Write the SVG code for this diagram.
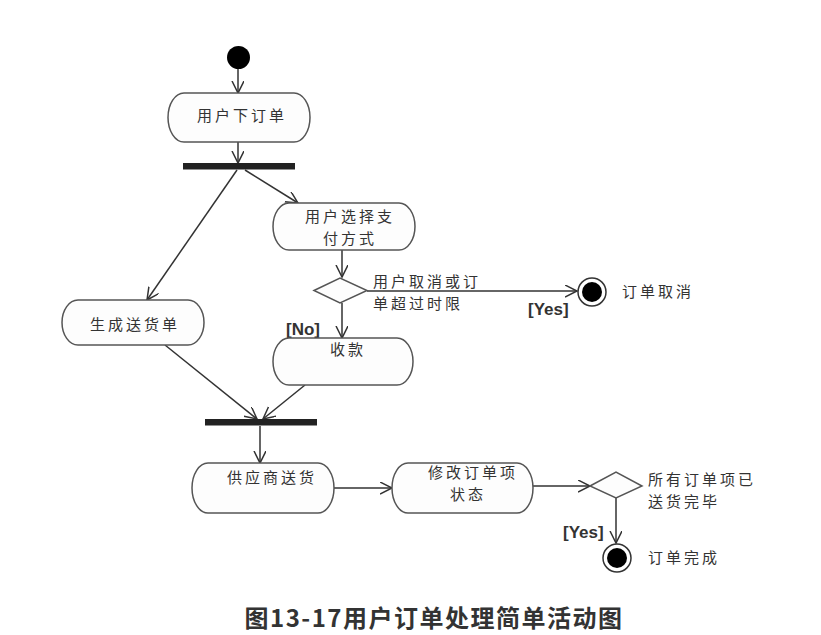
<svg xmlns="http://www.w3.org/2000/svg" width="821" height="635" viewBox="0 0 821 635">
<defs>
<marker id="arr" markerUnits="userSpaceOnUse" markerWidth="14" markerHeight="14" refX="12" refY="6" orient="auto">
<path d="M0,0 L12,6 L0,12" fill="none" stroke="#333" stroke-width="1.5"/>
</marker>
</defs>
<style>
.box{fill:#fdfdfd;stroke:#555;stroke-width:1.5}
.bar{fill:#222}
.ln{fill:none;stroke:#333;stroke-width:1.5}
.t{font-family:"Noto Sans CJK SC","Noto Sans",sans-serif;font-size:15px;fill:#333;letter-spacing:3px}
.g{font-family:"Liberation Sans",Arial,sans-serif;font-size:17px;font-weight:bold;fill:#333}
.title{font-family:"Noto Sans CJK SC","Noto Sans",sans-serif;font-size:24px;font-weight:bold;fill:#333;letter-spacing:1.5px}
</style>
<rect width="821" height="635" fill="#fff"/>
<g id="connectors">
<line class="ln" x1="238" y1="69" x2="238" y2="93" marker-end="url(#arr)"/>
<line class="ln" x1="238" y1="142" x2="238" y2="163" marker-end="url(#arr)"/>
<line class="ln" x1="237" y1="170" x2="147" y2="300" marker-end="url(#arr)"/>
<line class="ln" x1="245" y1="170" x2="298" y2="203" marker-end="url(#arr)"/>
<line class="ln" x1="342" y1="250" x2="342" y2="277" marker-end="url(#arr)"/>
<line class="ln" x1="367" y1="291" x2="577" y2="291" marker-end="url(#arr)"/>
<line class="ln" x1="342" y1="303" x2="342" y2="338" marker-end="url(#arr)"/>
<line class="ln" x1="165" y1="345" x2="257" y2="419" marker-end="url(#arr)"/>
<line class="ln" x1="305" y1="385" x2="263" y2="419" marker-end="url(#arr)"/>
<line class="ln" x1="260" y1="426" x2="260" y2="463" marker-end="url(#arr)"/>
<line class="ln" x1="334" y1="488" x2="392" y2="488" marker-end="url(#arr)"/>
<line class="ln" x1="533" y1="486" x2="590" y2="486" marker-end="url(#arr)"/>
<line class="ln" x1="616" y1="498" x2="616" y2="543" marker-end="url(#arr)"/>
</g>
<g id="start"><circle cx="238.5" cy="57.5" r="11.5" fill="#000"/></g>
<g id="n1">
<path class="box" d="M184,93 H294 A16,24.5 0 0 1 294,142 H184 A16,24.5 0 0 1 184,93 Z"/>
<text class="t" x="197" y="121">用户下订单</text>
</g>
<g id="fork"><rect class="bar" x="183" y="163" width="112" height="6.5"/></g>
<g id="n2">
<path class="box" d="M289,203 H399 A16,23.5 0 0 1 399,250 H289 A16,23.5 0 0 1 289,203 Z"/>
<text class="t"><tspan x="305" y="222">用户选择支</tspan><tspan x="323" y="244">付方式</tspan></text>
</g>
<g id="d1">
<polygon class="box" points="314,290.5 340,278 367,290.5 340,303"/>
<text class="t"><tspan x="373" y="287">用户取消或订</tspan><tspan x="373" y="309">单超过时限</tspan></text>
<text class="g" x="528" y="315">[Yes]</text>
<text class="g" x="286" y="335">[No]</text>
</g>
<g id="end1">
<circle cx="592" cy="292" r="14" fill="#fff" stroke="#333" stroke-width="1.5"/>
<circle cx="592" cy="292" r="10" fill="#000"/>
<text class="t" x="622" y="297">订单取消</text>
</g>
<g id="n3">
<path class="box" d="M78,300 H188 A16,22.5 0 0 1 188,345 H78 A16,22.5 0 0 1 78,300 Z"/>
<text class="t" x="90" y="330">生成送货单</text>
</g>
<g id="n4">
<path class="box" d="M289,338 H397 A16,23.5 0 0 1 397,385 H289 A16,23.5 0 0 1 289,338 Z"/>
<text class="t" x="330" y="355">收款</text>
</g>
<g id="join"><rect class="bar" x="205" y="419" width="112" height="6.5"/></g>
<g id="n5">
<path class="box" d="M208,463 H318 A16,25 0 0 1 318,513 H208 A16,25 0 0 1 208,463 Z"/>
<text class="t" x="227" y="483">供应商送货</text>
</g>
<g id="n6">
<path class="box" d="M408,463 H517 A16,25 0 0 1 517,513 H408 A16,25 0 0 1 408,463 Z"/>
<text class="t"><tspan x="428" y="478">修改订单项</tspan><tspan x="450" y="500">状态</tspan></text>
</g>
<g id="d2">
<polygon class="box" points="590,486 616,472 642,486 616,498"/>
<text class="t"><tspan x="648" y="485">所有订单项已</tspan><tspan x="648" y="507">送货完毕</tspan></text>
<text class="g" x="563" y="538">[Yes]</text>
</g>
<g id="end2">
<circle cx="617" cy="558" r="14" fill="#fff" stroke="#333" stroke-width="1.5"/>
<circle cx="617" cy="558" r="10" fill="#000"/>
<text class="t" x="648" y="563">订单完成</text>
</g>
<text class="title" x="434" y="627" text-anchor="middle">图13-17用户订单处理简单活动图</text>
</svg>
